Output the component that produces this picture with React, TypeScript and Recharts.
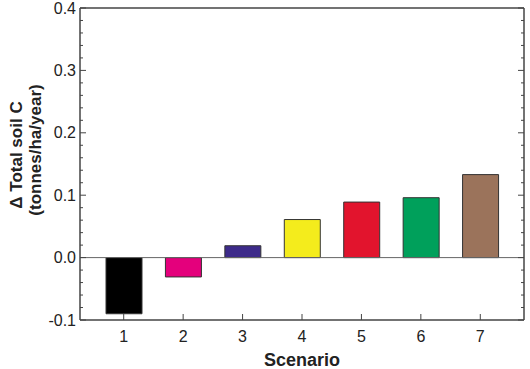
import { Bar, BarChart, Cell, ReferenceLine, XAxis, YAxis } from "recharts";

const scenarios = ["1", "2", "3", "4", "5", "6", "7"];
const deltaSoilC = [-0.09, -0.031, 0.019, 0.061, 0.089, 0.096, 0.133];
const barColors = ["#000000", "#e4007c", "#3d2a8a", "#f4ec1c", "#e2142d", "#00a05b", "#9b735b"];

// every 0.02 gets a tick, labels only on the 0.1 steps
const yTicks = [
  -0.1, -0.08, -0.06, -0.04, -0.02, 0, 0.02, 0.04, 0.06, 0.08, 0.1, 0.12, 0.14, 0.16, 0.18, 0.2,
  0.22, 0.24, 0.26, 0.28, 0.3, 0.32, 0.34, 0.36, 0.38, 0.4
];

const axisColor = "#444";
const font = "'Liberation Sans', Arial, sans-serif";

const chartData = scenarios.map((scenario, i) => ({
  scenario,
  value: deltaSoilC[i]
}));

function isMajor(v: number) {
  return Math.abs(v * 10 - Math.round(v * 10)) < 1e-6;
}

function LeftTick(props: any) {
  const { x, y, payload } = props;
  const v = payload.value as number;
  const major = isMajor(v);
  const ax = x + 4;
  return (
    <g>
      <line x1={ax} x2={ax + (major ? 6 : 3)} y1={y} y2={y} stroke={axisColor} strokeWidth={1} />
      {major && (
        <text x={x} y={y} dy="0.355em" textAnchor="end" fontSize={16} fill="#222" fontFamily={font}>
          {v.toFixed(1)}
        </text>
      )}
    </g>
  );
}

function RightTick(props: any) {
  const { x, y, payload } = props;
  const major = isMajor(payload.value as number);
  return <line x1={x} x2={x - (major ? 6 : 3)} y1={y} y2={y} stroke={axisColor} strokeWidth={1} />;
}

function BottomTick(props: any) {
  const { x, y, payload } = props;
  const ay = y - 11;
  return (
    <g>
      <line x1={x} x2={x} y1={ay} y2={ay - 6} stroke={axisColor} strokeWidth={1} />
      <text x={x} y={y} dy="0.71em" textAnchor="middle" fontSize={16} fill="#222" fontFamily={font}>
        {payload.value}
      </text>
    </g>
  );
}

function YTitle(props: any) {
  const { viewBox } = props;
  const cy = viewBox.y + viewBox.height / 2;
  return (
    <g fontFamily={font} fontWeight="bold" fontSize={17} fill="#222">
      <text x={21.5} y={cy - 9} transform={`rotate(-90, 21.5, ${cy - 9})`} textAnchor="middle">
        Δ Total soil C
      </text>
      <text x={41} y={cy - 14} transform={`rotate(-90, 41, ${cy - 14})`} textAnchor="middle">
        (tonnes/ha/year)
      </text>
    </g>
  );
}

function XTitle(props: any) {
  const { viewBox } = props;
  return (
    <text
      x={viewBox.x + viewBox.width / 2}
      y={viewBox.y + 46}
      textAnchor="middle"
      fontFamily={font}
      fontWeight="bold"
      fontSize={18}
      fill="#222"
    >
      Scenario
    </text>
  );
}

export default function App() {
  return (
    <div style={{ position: "absolute", left: 0, top: 0, background: "#fff" }}>
      <BarChart
        width={530}
        height={369}
        data={chartData}
        margin={{ top: 8, right: 0, bottom: 0, left: 0 }}
      >
        <XAxis
          dataKey="scenario"
          height={49}
          padding={{ left: 14, right: 14 }}
          tickSize={0}
          tickMargin={11}
          tick={<BottomTick />}
          interval={0}
          axisLine={{ stroke: axisColor, strokeWidth: 1.5 }}
          label={<XTitle />}
        />
        <YAxis
          yAxisId="left"
          width={80}
          domain={[-0.1, 0.4]}
          ticks={yTicks}
          interval={0}
          tickSize={0}
          tickMargin={4}
          tick={<LeftTick />}
          axisLine={{ stroke: axisColor, strokeWidth: 1.5 }}
          allowDataOverflow
          label={<YTitle />}
        />
        <YAxis
          yAxisId="right"
          orientation="right"
          width={6}
          domain={[-0.1, 0.4]}
          ticks={yTicks}
          interval={0}
          tickSize={0}
          tickMargin={0}
          tick={<RightTick />}
          axisLine={{ stroke: axisColor, strokeWidth: 1.5 }}
          allowDataOverflow
        />
        <ReferenceLine yAxisId="left" y={0.4} stroke={axisColor} strokeWidth={1.5} />
        <ReferenceLine yAxisId="left" y={0} stroke="#666" strokeWidth={1} />
        <Bar yAxisId="left" dataKey="value" barSize={36} stroke="#333" strokeWidth={1} isAnimationActive={false}>
          {chartData.map((d, i) => (
            <Cell key={d.scenario} fill={barColors[i]} />
          ))}
        </Bar>
      </BarChart>
    </div>
  );
}
